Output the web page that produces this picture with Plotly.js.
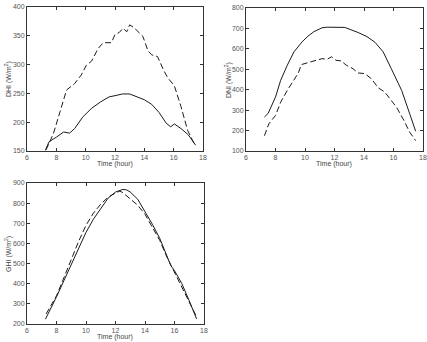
<!DOCTYPE html>
<html>
<head>
<meta charset="utf-8">
<script src="https://cdn.plot.ly/plotly-3.0.1.min.js"></script>
<style>
  html, body { margin: 0; padding: 0; background: #fff; }
  #chart { width: 427px; height: 342px; }
</style>
</head>
<body>
<div id="chart"></div>
<script>
// Diffuse horizontal irradiance (DHI)
const dhiMeasTime = [7.25, 7.5, 8, 8.5, 8.9, 9.25, 9.8, 10.4, 11, 11.6, 12, 12.5, 13, 13.5, 14, 14.5, 15, 15.5, 15.8, 16.05, 16.5, 17, 17.5];
const dhiMeas     = [151, 166, 174, 183, 181, 189, 209, 224, 235, 244, 246, 249, 249, 244, 239, 231, 217, 198, 192, 197, 189, 178, 160];
const dhiModelTime = [7.3, 7.8, 8.25, 8.7, 9.25, 9.7, 10.05, 10.4, 10.85, 11.2, 11.75, 12.0, 12.3, 12.55, 12.8, 13.0, 13.3, 13.9, 14.25, 14.5, 14.9, 15.3, 15.6, 16.05, 16.5, 16.95, 17.45];
const dhiModel     = [152, 180, 218, 256, 267, 282, 299, 306, 328, 338, 338, 352, 356, 363, 357, 369, 364, 349, 324, 317, 314, 291, 277, 263, 227, 186, 160];

// Direct normal irradiance (DNI)
const dniMeasTime = [7.25, 7.5, 8, 8.35, 8.8, 9.25, 9.8, 10.15, 10.6, 11.15, 11.5, 12, 12.7, 13.6, 14.2, 14.75, 15.3, 15.85, 16.55, 17.1, 17.5];
const dniMeas     = [266, 284, 364, 446, 520, 585, 634, 659, 684, 703, 706, 707, 705, 680, 660, 632, 585, 503, 397, 282, 197];
const dniModelTime = [7.25, 7.55, 8, 8.35, 8.8, 9.25, 9.55, 9.75, 10, 10.5, 10.8, 11.15, 11.5, 11.8, 12.1, 12.45, 12.8, 13.25, 13.6, 14.05, 14.5, 14.95, 15.4, 15.85, 16.2, 16.65, 17.1, 17.5];
const dniModel     = [175, 233, 274, 339, 397, 446, 482, 523, 528, 536, 544, 552, 549, 561, 544, 541, 520, 503, 482, 479, 454, 410, 389, 348, 315, 257, 192, 151];

// Global horizontal irradiance (GHI)
const ghiMeasTime = [7.25, 7.5, 8, 8.5, 9, 9.5, 10, 10.5, 11, 11.5, 12, 12.5, 12.75, 13, 13.5, 14, 14.5, 15, 15.5, 15.75, 16, 16.5, 17, 17.5];
const ghiMeas     = [224, 260, 335, 415, 495, 580, 655, 720, 775, 825, 855, 868, 866, 855, 820, 760, 695, 625, 540, 490, 465, 400, 315, 225];
const ghiModelTime = [7.3, 7.5, 8, 8.5, 9, 9.5, 10, 10.5, 11, 11.5, 12, 12.3, 12.5, 12.7, 13, 13.5, 14, 14.5, 15, 15.5, 16, 16.5, 17, 17.5];
const ghiModel     = [250, 275, 340, 430, 520, 610, 690, 750, 795, 830, 850, 860, 852, 840, 820, 790, 745, 680, 615, 530, 455, 385, 305, 235];

const xTicks = [6, 8, 10, 12, 14, 16, 18];

const lineColor = '#1a1a1a';
const tickFont = { family: 'Liberation Sans, Arial, sans-serif', size: 7, color: '#555' };
const titleFont = { family: 'Liberation Sans, Arial, sans-serif', size: 7, color: '#444' };

function solid(x, y, xa, ya) {
  return { x, y, xaxis: xa, yaxis: ya, mode: 'lines', type: 'scatter',
           line: { color: lineColor, width: 1 }, hoverinfo: 'skip', showlegend: false };
}
function dashed(x, y, xa, ya) {
  return { x, y, xaxis: xa, yaxis: ya, mode: 'lines', type: 'scatter',
           line: { color: lineColor, width: 1, dash: '6px,3px' }, hoverinfo: 'skip', showlegend: false };
}

const traces = [
  solid(dhiMeasTime, dhiMeas, 'x', 'y'),
  dashed(dhiModelTime, dhiModel, 'x', 'y'),
  solid(dniMeasTime, dniMeas, 'x2', 'y2'),
  dashed(dniModelTime, dniModel, 'x2', 'y2'),
  solid(ghiMeasTime, ghiMeas, 'x3', 'y3'),
  dashed(ghiModelTime, ghiModel, 'x3', 'y3')
];

const W = 427, H = 342;
function xDom(l, r) { return [l / W, r / W]; }
function yDom(top, bottom) { return [(H - bottom) / H, (H - top) / H]; }

function xAxis(dom, anchor) {
  return { domain: dom, anchor, range: [6, 18], tickvals: xTicks, ticks: 'inside', ticklen: 3,
           tickcolor: '#333', showline: true, linecolor: '#333', linewidth: 1, mirror: 'allticks',
           showgrid: false, zeroline: false, tickfont: tickFont, fixedrange: true };
}
function yAxis(dom, anchor, range, dtick) {
  return { domain: dom, anchor, range, dtick, tick0: range[0], ticks: 'inside', ticklen: 3,
           tickcolor: '#333', showline: true, linecolor: '#333', linewidth: 1, mirror: 'allticks',
           showgrid: false, zeroline: false, tickfont: tickFont, fixedrange: true };
}

function ann(text, x, y, rot, yanchor) {
  return { text, x: x / W, y: (H - y) / H, xref: 'paper', yref: 'paper', showarrow: false,
           textangle: rot || 0, font: titleFont, xanchor: 'center', yanchor: yanchor || 'middle',
           borderpad: 0 };
}

const layout = {
  width: W, height: H,
  margin: { l: 0, r: 0, t: 0, b: 0 },
  paper_bgcolor: '#fff', plot_bgcolor: '#fff',
  showlegend: false,
  xaxis: xAxis(xDom(27, 203), 'y'),
  yaxis: yAxis(yDom(7, 151), 'x', [150, 400], 50),
  xaxis2: xAxis(xDom(246, 423), 'y2'),
  yaxis2: yAxis(yDom(8, 151), 'x2', [100, 800], 100),
  xaxis3: xAxis(xDom(27, 204), 'y3'),
  yaxis3: yAxis(yDom(183, 324), 'x3', [200, 900], 100),
  annotations: [
    ann('Time (hour)', 115, 164),
    ann('DHI (W/m<sup>2</sup>)', 8, 79, -90),
    ann('Time (hour)', 334, 164),
    ann('DNI (W/m<sup>2</sup>)', 228, 80, -90),
    ann('Time (hour)', 115, 342, 0, 'bottom'),
    ann('GHI (W/m<sup>2</sup>)', 8, 254, -90)
  ]
};

Plotly.newPlot('chart', traces, layout, { staticPlot: true, displayModeBar: false });
</script>
</body>
</html>
